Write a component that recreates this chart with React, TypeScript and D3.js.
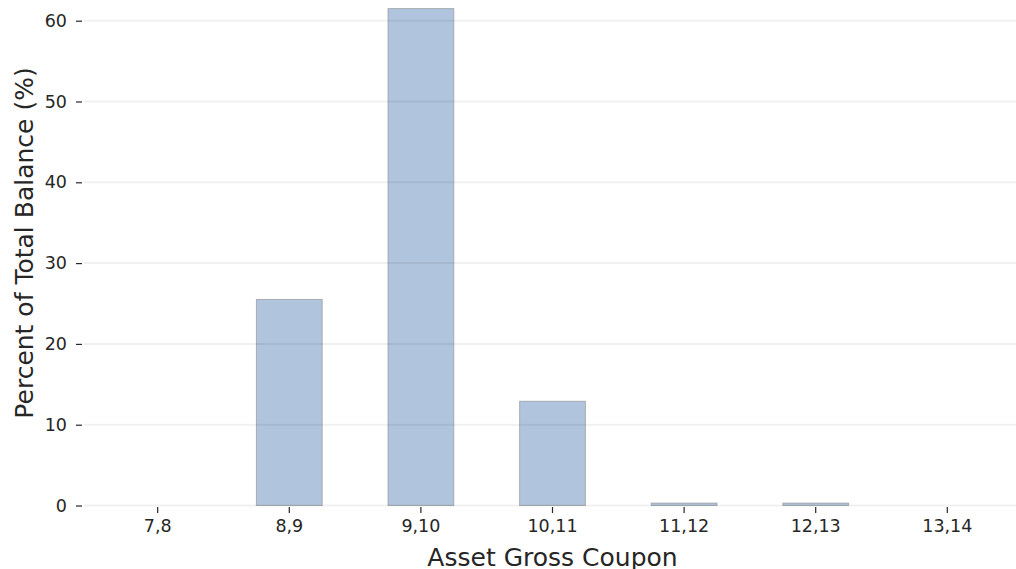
import * as d3 from 'd3'
import { useEffect, useRef } from 'react'

const categories = ['7,8', '8,9', '9,10', '10,11', '11,12', '12,13', '13,14']
const percentValues = [0, 25.5, 61.5, 12.9, 0.3, 0.3, 0]
const yTicks = [0, 10, 20, 30, 40, 50, 60]

const FONT = '"DejaVu Sans", sans-serif'

export default function App() {
  const svgRef = useRef<SVGSVGElement>(null)

  useEffect(() => {
    if (!svgRef.current) return

    const width = 1016
    const height = 569
    const plotLeft = 84
    const plotRight = 1021

    d3.select(svgRef.current).selectAll('*').remove()

    const svg = d3
      .select(svgRef.current)
      .attr('width', width)
      .attr('height', height)

    // Scales
    const xScale = d3
      .scaleBand<string>()
      .domain(categories)
      .range([plotLeft, plotRight])
      .paddingInner(0.5)
      .paddingOuter(0.31)

    const yScale = d3.scaleLinear().domain([0, 60]).range([505.5, 20.7])

    // Bars
    svg
      .append('g')
      .selectAll('rect')
      .data(percentValues)
      .enter()
      .append('rect')
      .attr('x', (_d: number, i: number) => xScale(categories[i]) as number)
      .attr('y', (d: number) => yScale(d))
      .attr('width', xScale.bandwidth())
      .attr('height', (d: number) => yScale(0) - yScale(d))
      .attr('fill', '#b0c4de')
      .attr('stroke', '#8c8c8c')
      .attr('stroke-opacity', 0.6)
      .attr('stroke-width', 1)

    // Horizontal grid lines (drawn over the bars)
    svg
      .append('g')
      .selectAll('line')
      .data(yTicks)
      .enter()
      .append('line')
      .attr('x1', plotLeft)
      .attr('x2', width)
      .attr('y1', (d: number) => yScale(d))
      .attr('y2', (d: number) => yScale(d))
      .attr('stroke', '#000')
      .attr('stroke-opacity', 0.06)
      .attr('stroke-width', 2)

    // Y axis
    const yAxis = svg
      .append('g')
      .attr('transform', `translate(${plotLeft - 2},0)`)
      .call(
        d3
          .axisLeft(yScale)
          .tickValues(yTicks)
          .tickSize(6)
          .tickPadding(9)
          .tickFormat((d: any) => String(d))
      )
    yAxis.select('.domain').remove()
    yAxis.selectAll('line').attr('stroke', '#262626').attr('stroke-width', 1.2)
    yAxis
      .selectAll('text')
      .attr('fill', '#262626')
      .style('font-family', FONT)
      .style('font-size', '17.5px')

    // X axis
    const xAxis = svg
      .append('g')
      .attr('transform', `translate(0,${yScale(0) + 1.5})`)
      .call(d3.axisBottom(xScale).tickSize(6).tickPadding(7))
    xAxis.select('.domain').remove()
    xAxis.selectAll('line').attr('stroke', '#262626').attr('stroke-width', 1.2)
    xAxis
      .selectAll('text')
      .attr('fill', '#262626')
      .style('font-family', FONT)
      .style('font-size', '17.5px')

    // Axis titles
    svg
      .append('text')
      .attr('x', (plotLeft + plotRight) / 2)
      .attr('y', 566)
      .attr('text-anchor', 'middle')
      .attr('fill', '#262626')
      .style('font-family', FONT)
      .style('font-size', '25px')
      .text('Asset Gross Coupon')

    svg
      .append('text')
      .attr('transform', 'translate(33,243) rotate(-90)')
      .attr('text-anchor', 'middle')
      .attr('fill', '#262626')
      .style('font-family', FONT)
      .style('font-size', '25px')
      .text('Percent of Total Balance (%)')
  }, [])

  return (
    <svg
      ref={svgRef}
      style={{ position: 'absolute', left: 0, top: 0, background: '#fff' }}
    />
  )
}
